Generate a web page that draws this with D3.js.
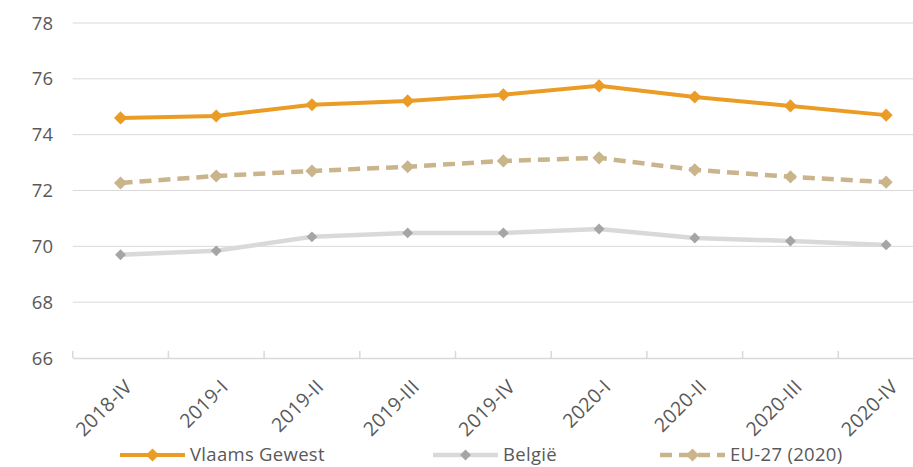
<!DOCTYPE html>
<html><head><meta charset="utf-8">
<script src="https://cdn.jsdelivr.net/npm/d3@7"></script>
<style>body{margin:0;background:#fff}svg{display:block}</style>
</head><body><svg id="c" width="913" height="467"></svg>
<script>
const categories = ["2018-IV","2019-I","2019-II","2019-III","2019-IV","2020-I","2020-II","2020-III","2020-IV"];
const vlaams = [74.6, 74.67, 75.07, 75.21, 75.43, 75.75, 75.35, 75.03, 74.7];
const belgie = [69.7, 69.84, 70.34, 70.48, 70.48, 70.62, 70.3, 70.19, 70.05];
const eu27 = [72.27, 72.52, 72.7, 72.85, 73.06, 73.17, 72.74, 72.49, 72.3];
const yTicks = [66, 68, 70, 72, 74, 76, 78];
const seriesNames = ["Vlaams Gewest", "België", "EU-27 (2020)"];

const svg = d3.select("#c");
const font = "'Open Sans', 'Liberation Sans', sans-serif";
const x = d3.scaleBand().domain(categories).range([72.7, 934]);
const y = d3.scaleLinear().domain([66, 78]).range([358, 23]);

// gridlines
svg.append("g").selectAll("line").data(yTicks.slice(1)).join("line")
  .attr("x1", 72.7).attr("x2", 913).attr("y1", d => y(d)).attr("y2", d => y(d))
  .attr("stroke", "#d9d9d9").attr("stroke-width", 1);

// y labels
svg.append("g").selectAll("text").data(yTicks).join("text")
  .attr("x", 53).attr("y", d => y(d)).attr("dy", "0.36em")
  .attr("text-anchor", "end").attr("font-family", font).attr("font-size", 18.5)
  .attr("fill", "#595959").text(d => d);

// x axis
const xAxis = d3.axisBottom(x).tickSize(0).tickFormat("");
const gx = svg.append("g").attr("transform", `translate(0,${y(66)})`).call(xAxis);
gx.select(".domain").attr("stroke", "#d9d9d9").attr("stroke-width", 1.5);
const bounds = categories.map((c, i) => x(c));
svg.append("g").selectAll("line").data(bounds).join("line")
  .attr("x1", d => d).attr("x2", d => d).attr("y1", y(66)).attr("y2", y(66) - 7)
  .attr("stroke", "#d9d9d9").attr("stroke-width", 1.5);

svg.append("g").selectAll("text").data(categories).join("text")
  .attr("transform", d => `translate(${x(d) + x.bandwidth()/2 + 8},${y(66) + 25}) rotate(-45)`)
  .attr("text-anchor", "end").attr("dy", "0.36em")
  .attr("font-family", font).attr("font-size", 19.5).attr("letter-spacing", 0.3)
  .attr("fill", "#595959").text(d => d);

const series = [
  {name: seriesNames[0], values: vlaams, color: "#eb9c24", mcolor: "#eb9c24", dash: null, w: 4, ms: 110},
  {name: seriesNames[1], values: belgie, color: "#d9d9d9", mcolor: "#a5a5a8", dash: null, w: 4.5, ms: 75},
  {name: seriesNames[2], values: eu27, color: "#c9b48c", mcolor: "#c9b48c", dash: "12,7", w: 4.5, ms: 110}
];
const line = d3.line().x((d, i) => x(categories[i]) + x.bandwidth()/2).y(d => y(d));
const diamond = d3.symbol().type(d3.symbolDiamond2);

series.forEach(s => {
  const g = svg.append("g");
  g.append("path").attr("d", line(s.values)).attr("fill", "none")
    .attr("stroke", s.color).attr("stroke-width", s.w)
    .attr("stroke-dasharray", s.dash).attr("stroke-linejoin", "round");
  g.selectAll("path.m").data(s.values).join("path").attr("class", "m")
    .attr("d", diamond.size(s.ms)())
    .attr("transform", (d, i) => `translate(${x(categories[i]) + x.bandwidth()/2},${y(d)})`)
    .attr("fill", s.mcolor);
});

// legend
const legendX = [120, 433, 660];
series.forEach((s, i) => {
  const g = svg.append("g").attr("transform", `translate(${legendX[i]},455)`);
  g.append("line").attr("x1", 0).attr("x2", 65).attr("y1", 0).attr("y2", 0)
    .attr("stroke", s.color).attr("stroke-width", s.w).attr("stroke-dasharray", s.dash);
  g.append("path").attr("d", diamond.size(s.ms)()).attr("transform", "translate(32.5,0)").attr("fill", s.mcolor);
  g.append("text").attr("x", 70).attr("dy", "0.33em").attr("font-family", font)
    .attr("font-size", 18.5).attr("letter-spacing", 0.3).attr("fill", "#595959").text(s.name);
});
</script></body></html>
